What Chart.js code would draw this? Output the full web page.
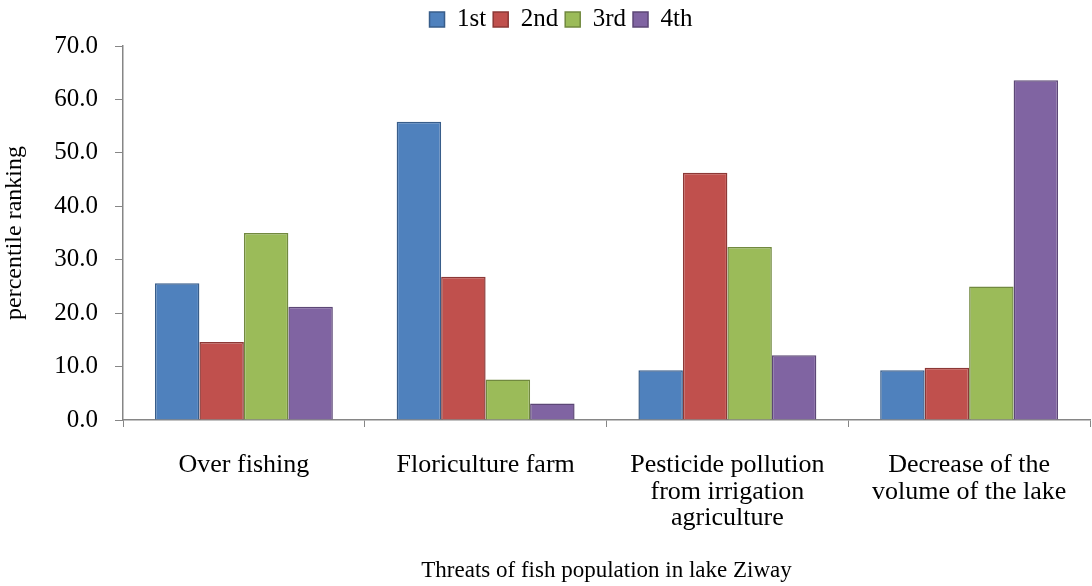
<!DOCTYPE html>
<html>
<head>
<meta charset="utf-8">
<script src="https://cdn.jsdelivr.net/npm/chart.js@4"></script>
<style>
  html, body { margin: 0; padding: 0; background: #fff; }
  #wrap { width: 1092px; height: 586px; }
</style>
</head>
<body>
<div id="wrap"><canvas id="threatsChart" width="1092" height="586"></canvas></div>
<script>
var categories = [
    'Over fishing',
    'Floriculture farm',
    ['Pesticide pollution', 'from irrigation', 'agriculture'],
    ['Decrease of the', 'volume of the lake']
];
var seriesNames = ['1st', '2nd', '3rd', '4th'];
var first = [25.6, 55.8, 9.3, 9.3];
var second = [14.6, 26.8, 46.3, 9.8];
var third = [35.0, 7.6, 32.4, 25.0];
var fourth = [21.2, 3.1, 12.1, 63.6];
var yTicks = [0, 10, 20, 30, 40, 50, 60, 70];

var fills = ['#4F81BD', '#C0504D', '#9BBB59', '#8064A2'];
var edges = ['#385D8A', '#8C3836', '#71893F', '#5C4776'];
var axisGrey = '#868686';
var serif = "'Liberation Serif', 'Times New Roman', serif";

// legend sits a bit right of centre in the original, and leaves a little more room below
var legendTweak = {
    id: 'legendTweak',
    afterInit: function (chart) {
        var lg = chart.legend;
        var origFit = lg.fit;
        lg.fit = function () {
            origFit.call(this);
            this.height += 4;
        };
    },
    afterLayout: function (chart) {
        chart.legend.left += 16;
        chart.legend.right += 16;
    }
};

var ctx = document.getElementById('threatsChart').getContext('2d');
var threatsChart = new Chart(ctx, {
    type: 'bar',
    data: {
        labels: categories,
        datasets: [first, second, third, fourth].map(function (vals, i) {
            return {
                label: seriesNames[i],
                data: vals,
                backgroundColor: fills[i],
                borderColor: edges[i],
                borderWidth: 1.5,
                categoryPercentage: 0.736,
                barPercentage: 1.0
            };
        })
    },
    plugins: [legendTweak],
    options: {
        responsive: false,
        animation: false,
        layout: { padding: { left: 0, right: 2, top: 0, bottom: 0 } },
        scales: {
            x: {
                afterFit: function (scale) { scale.height = 166; },
                grid: {
                    drawOnChartArea: false,
                    color: axisGrey,
                    tickLength: 7,
                    offset: true
                },
                border: { color: axisGrey, width: 1.5 },
                ticks: {
                    color: '#000',
                    font: { family: serif, size: 26, lineHeight: 1.02 },
                    padding: 25,
                    maxRotation: 0,
                    autoSkip: false
                },
                title: {
                    display: true,
                    text: 'Threats of fish population in lake Ziway',
                    color: '#000',
                    font: { family: serif, size: 23 },
                    padding: { top: 0, bottom: 1 }
                }
            },
            y: {
                min: 0,
                max: 70,
                afterFit: function (scale) { scale.width = 123; },
                afterBuildTicks: function (axis) {
                    axis.ticks = yTicks.map(function (v) { return { value: v }; });
                },
                grid: {
                    drawOnChartArea: false,
                    color: axisGrey,
                    tickLength: 8
                },
                border: { color: axisGrey, width: 1.5 },
                ticks: {
                    color: '#000',
                    font: { family: serif, size: 25 },
                    padding: 17,
                    callback: function (v) { return Number(v).toFixed(1); }
                },
                title: {
                    display: true,
                    text: 'percentile ranking',
                    color: '#000',
                    font: { family: serif, size: 24 },
                    padding: { top: 0, bottom: 0 }
                }
            }
        },
        plugins: {
            legend: {
                position: 'top',
                labels: {
                    color: '#000',
                    font: { family: serif, size: 25 },
                    boxWidth: 15,
                    boxHeight: 15,
                    padding: 7
                }
            },
            tooltip: { enabled: false }
        }
    }
});
</script>
</body>
</html>
